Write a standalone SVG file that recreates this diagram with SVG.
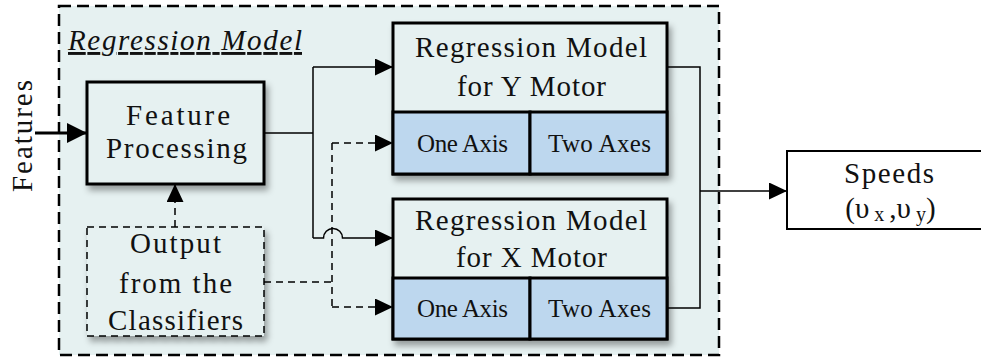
<svg xmlns="http://www.w3.org/2000/svg" width="981" height="358" viewBox="0 0 981 358">
  <style>
    text { font-family: "Liberation Serif", "Times New Roman", serif; fill: #111; }
    .t26 { font-size: 29px; text-anchor: middle; }
    .t22 { font-size: 25px; text-anchor: middle; }
    .box { fill: #E6F1F1; stroke: #000; stroke-width: 3; }
    .cell { fill: #BDD7EE; stroke: #000; stroke-width: 3; }
    .wire { fill: none; stroke: #000; stroke-width: 1.5; }
    .dash { fill: none; stroke: #000; stroke-width: 1.5; stroke-dasharray: 7 5; }
  </style>
  <defs>
    <filter id="shadow" x="-10%" y="-10%" width="125%" height="130%">
      <feDropShadow dx="3" dy="5" stdDeviation="3" flood-color="#000" flood-opacity="0.35"/>
    </filter>
    <marker id="arrow" markerUnits="userSpaceOnUse" markerWidth="18" markerHeight="18" refX="18" refY="8.5" orient="auto">
      <path d="M0,0 L18,8.5 L0,17 Z" fill="#000"/>
    </marker>
    <marker id="arrowBig" markerUnits="userSpaceOnUse" markerWidth="20" markerHeight="20" refX="20" refY="10" orient="auto">
      <path d="M0,0 L20,10 L0,20 Z" fill="#000"/>
    </marker>
  </defs>

  <rect width="981" height="358" fill="#fff"/>

  <!-- regression model container -->
  <g id="container">
    <rect x="59" y="6" width="660" height="349" fill="#E6F1F1" stroke="#000" stroke-width="2.5" stroke-dasharray="12 6"/>
    <text x="68" y="50" font-size="29" font-style="italic" text-decoration="underline" textLength="234" lengthAdjust="spacing">Regression Model</text>
  </g>

  <!-- input label -->
  <g id="features">
    <text class="t26" transform="translate(32,136) rotate(-90)" textLength="112" lengthAdjust="spacing">Features</text>
  </g>

  <g id="feature-processing">
    <rect class="box" x="87" y="82" width="177" height="102" filter="url(#shadow)"/>
    <text class="t26" x="178" y="125" textLength="104" lengthAdjust="spacing">Feature</text>
    <text class="t26" x="176.5" y="158" textLength="141" lengthAdjust="spacing">Processing</text>
  </g>

  <g id="classifier-output">
    <rect x="87" y="227" width="177" height="109" fill="#E6F1F1" stroke="#000" stroke-width="1.5" stroke-dasharray="7 5" filter="url(#shadow)"/>
    <text class="t26" x="175.5" y="253" textLength="91" lengthAdjust="spacing">Output</text>
    <text class="t26" x="175.5" y="293" textLength="113" lengthAdjust="spacing">from the</text>
    <text class="t26" x="175.5" y="330" textLength="135" lengthAdjust="spacing">Classifiers</text>
  </g>

  <g id="model-y">
    <g filter="url(#shadow)">
      <rect class="box" x="393" y="23" width="274" height="151"/>
      <rect class="cell" x="393" y="112" width="137" height="62"/>
      <rect class="cell" x="530" y="112" width="137" height="62"/>
    </g>
    <text class="t26" x="531" y="57" textLength="232" lengthAdjust="spacing">Regression Model</text>
    <text class="t26" x="531.5" y="96" textLength="149" lengthAdjust="spacing">for Y Motor</text>
    <text class="t22" x="462.5" y="152" textLength="91" lengthAdjust="spacing">One Axis</text>
    <text class="t22" x="599.5" y="152" textLength="103" lengthAdjust="spacing">Two Axes</text>
  </g>

  <g id="model-x">
    <g filter="url(#shadow)">
      <rect class="box" x="393" y="199" width="274" height="140"/>
      <rect class="cell" x="393" y="278" width="137" height="61"/>
      <rect class="cell" x="530" y="278" width="137" height="61"/>
    </g>
    <text class="t26" x="531" y="230" textLength="232" lengthAdjust="spacing">Regression Model</text>
    <text class="t26" x="531.5" y="267" textLength="151" lengthAdjust="spacing">for X Motor</text>
    <text class="t22" x="462.5" y="317" textLength="91" lengthAdjust="spacing">One Axis</text>
    <text class="t22" x="599.5" y="317" textLength="103" lengthAdjust="spacing">Two Axes</text>
  </g>

  <g id="speeds">
    <rect x="787" y="151" width="200" height="78" fill="#fff" stroke="#000" stroke-width="2"/>
    <text class="t26" x="889" y="183" textLength="90" lengthAdjust="spacing">Speeds</text>
    <text x="890.5" y="218" font-size="29" text-anchor="middle">(υ<tspan font-size="20" dy="3"> x </tspan><tspan dy="-3">,υ</tspan><tspan font-size="20" dy="3"> y</tspan><tspan dy="-3">)</tspan></text>
  </g>

  <g id="connectors">
    <!-- features in -->
    <path d="M35,133 H87" fill="none" stroke="#000" stroke-width="3" marker-end="url(#arrowBig)"/>
    <!-- processed features to both models -->
    <path class="wire" d="M264,133 H313"/>
    <path class="wire" d="M313,67 V238"/>
    <path class="wire" d="M313,67 H393" marker-end="url(#arrow)"/>
    <path class="wire" d="M313,238 H323.5 A9.5,9.5 0 0,1 342.5,238 H393" marker-end="url(#arrow)"/>
    <!-- classifier output -->
    <path class="dash" d="M175,227 V184" marker-end="url(#arrow)"/>
    <path class="dash" d="M264,282 H332"/>
    <path class="dash" d="M332,143 V307"/>
    <path class="dash" d="M332,143 H393" marker-end="url(#arrow)"/>
    <path class="dash" d="M332,307 H393" marker-end="url(#arrow)"/>
    <!-- model outputs to speeds -->
    <path class="wire" d="M667,67 H700 V308 H667"/>
    <path class="wire" d="M700,191 H787" marker-end="url(#arrow)"/>
  </g>
</svg>
